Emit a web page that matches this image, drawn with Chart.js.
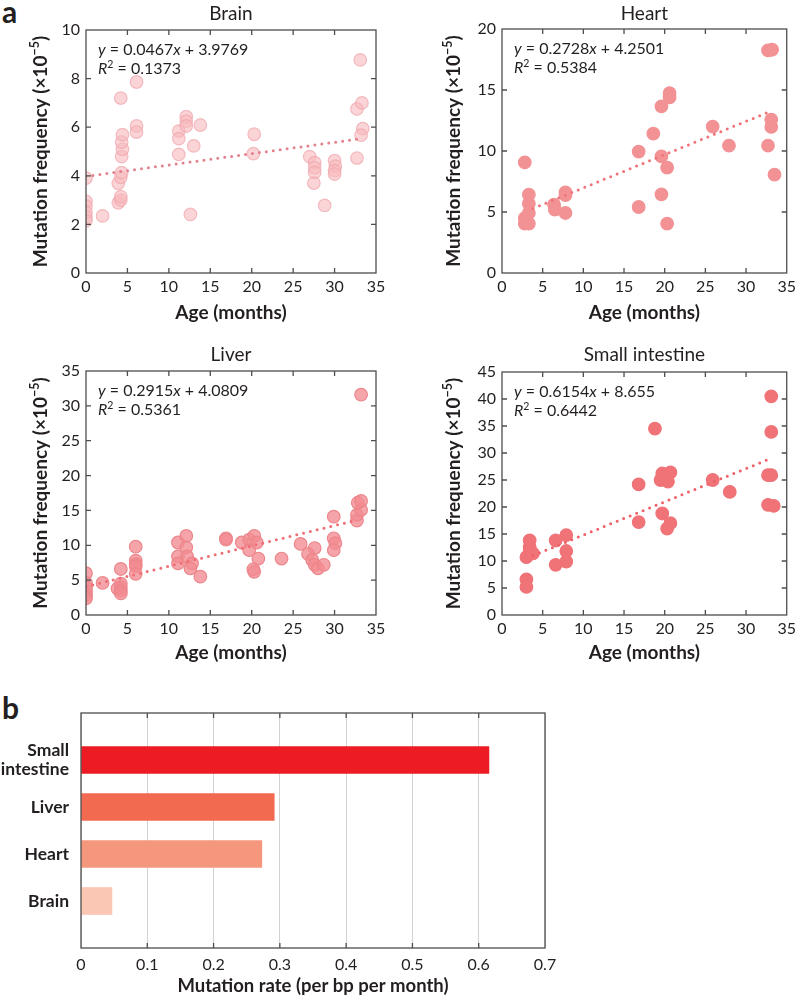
<!DOCTYPE html>
<html lang="en">
<head>
<meta charset="UTF-8">
<title>Mutation frequency with age</title>
<script src="https://cdn.jsdelivr.net/npm/chart.js"></script>
<style>
  body { margin: 0; background: #fff; }
  #wrap { position: relative; width: 800px; height: 998px; overflow: hidden; }
  canvas { position: absolute; }
  .tag { position: absolute; font: bold 30px Lato, sans-serif; color: #231f20; line-height: 30px; }
</style>
</head>
<body>
<div id="wrap">
  <div class="tag" style="left:2px;top:-4px">a</div>
  <div class="tag" style="left:2px;top:692px">b</div>
  <canvas id="brain" width="400" height="325" style="left:0;top:0"></canvas>
  <canvas id="heart" width="400" height="325" style="left:400px;top:0"></canvas>
  <canvas id="liver" width="400" height="335" style="left:0;top:330px"></canvas>
  <canvas id="intestine" width="400" height="335" style="left:400px;top:330px"></canvas>
  <canvas id="rates" width="800" height="308" style="left:0;top:690px"></canvas>
</div>

<script>
// ---- data ----
const tissues = ["Brain", "Heart", "Liver", "Small intestine"];

const brainAge  = [0, 0, 0, 0, 0, 0, 2.0, 3.9, 4.2, 4.3, 3.9, 4.2, 4.2, 4.3, 4.4, 4.3, 4.4, 4.2, 6.1, 6.1, 6.1,
                   11.2, 11.2, 11.2, 12.1, 12.1, 12.1, 13.0, 12.6, 13.8, 20.3, 20.2, 27.0, 27.6, 27.6, 27.6, 27.5,
                   28.8, 30.0, 30.1, 30.0, 30.0, 32.7, 33.3, 33.1, 33.4, 33.2, 32.7];
const brainFreq = [3.9, 2.95, 2.75, 2.5, 2.3, 2.15, 2.35, 3.69, 3.94, 4.13, 2.89, 3.0, 3.14, 4.79, 5.09, 5.39, 5.69, 7.2, 7.86, 6.05, 5.8,
                   5.84, 5.53, 4.88, 6.43, 6.25, 6.05, 5.23, 2.41, 6.09, 5.71, 4.91, 4.79, 4.54, 4.33, 4.14, 3.7,
                   2.78, 4.62, 4.4, 4.21, 4.07, 6.75, 7.0, 8.77, 5.94, 5.67, 4.73];

const heartAge  = [2.8, 3.3, 3.3, 3.3, 2.8, 2.8, 3.3, 6.4, 6.5, 7.8, 7.8, 7.8, 16.8, 16.8, 18.6, 19.6, 19.6, 19.6,
                   20.3, 20.3, 20.6, 20.6, 25.9, 27.9, 32.7, 32.7, 33.2, 33.1, 33.1, 33.5];
const heartFreq = [9.07, 6.42, 5.68, 4.92, 4.5, 4.04, 4.04, 5.6, 5.19, 6.61, 6.39, 4.92, 9.95, 5.41, 11.42, 13.66, 9.56, 6.45,
                   8.63, 4.04, 14.75, 14.4, 12.0, 10.44, 10.44, 18.25, 18.3, 12.57, 11.97, 8.06];

const liverAge  = [0, 0, 0, 0, 0, 0, 2.0, 4.2, 4.2, 4.2, 3.8, 4.2, 4.2, 6.0, 6.0, 6.0, 6.0, 6.0,
                   11.1, 11.1, 11.1, 12.1, 12.1, 12.2, 12.8, 12.6, 13.8, 16.9, 16.9, 18.8, 19.7, 20.3, 20.6, 19.7,
                   20.8, 20.2, 20.3, 23.6, 25.9, 27.6, 26.8, 27.3, 27.6, 28.0, 28.7, 29.9, 29.9, 30.1, 29.9,
                   32.7, 32.7, 33.2, 32.8, 33.2, 33.2];
const liverFreq = [6.0, 4.6, 4.0, 3.4, 2.8, 2.4, 4.6, 6.6, 4.5, 4.0, 3.8, 3.5, 3.1, 9.8, 7.8, 7.3, 7.0, 5.9,
                   10.4, 8.4, 7.4, 11.34, 9.7, 8.4, 7.4, 6.7, 5.5, 11.0, 10.8, 10.4, 10.8, 11.34, 10.4, 9.3,
                   8.1, 6.56, 6.2, 8.1, 10.2, 9.6, 8.76, 7.9, 7.2, 6.7, 7.2, 14.1, 11.0, 10.3, 9.3,
                   13.54, 14.35, 15.07, 16.1, 16.36, 31.6];

const intestineAge  = [3.0, 3.4, 3.8, 3.4, 3.4, 3.0, 3.0, 6.6, 6.6, 7.9, 7.9, 7.9, 16.8, 16.8, 18.8, 19.5, 19.7,
                       20.4, 20.7, 19.7, 20.7, 20.3, 25.9, 28.0, 32.7, 33.1, 32.7, 33.4, 33.1, 33.1];
const intestineFreq = [10.7, 11.7, 11.4, 12.5, 13.8, 6.6, 5.2, 13.8, 9.3, 14.8, 11.85, 9.9, 24.2, 17.2, 34.5, 25.0, 26.2,
                       24.7, 26.4, 18.8, 17.0, 16.0, 25.0, 22.8, 25.9, 25.9, 20.4, 20.2, 33.9, 40.5];

// fitted lines printed in each panel
const fitSlope     = [0.0467, 0.2728, 0.2915, 0.6154];
const fitIntercept = [3.9769, 4.2501, 4.0809, 8.655];
const fitR2        = [0.1373, 0.5384, 0.5361, 0.6442];
const fitFrom      = [0, 3.8, 0, 3.8];
const fitTo        = [33.3, 33.2, 32.6, 33.2];

const yMax  = [10, 20, 35, 45];
const yStep = [2, 5, 5, 5];
const ageTicks = [0, 35, 5];

// panel b
const rateTissues = [["Small", "intestine"], "Liver", "Heart", "Brain"];
const rateValues  = [0.6154, 0.2915, 0.2728, 0.0467];
const rateColors  = ["#ed1c24", "#f26a4f", "#f4977c", "#fac7b4"];

// ---- drawing ----
const FONT = "Lato, 'Open Sans', sans-serif";
Chart.defaults.font.family = FONT;
Chart.defaults.color = "#231f20";

function drawRich(ctx, segs, x, y, size, weight, align) {
  const fontOf = s => (s.it ? "italic " : "") + weight + " " + (s.sup ? size * 0.66 : size) + "px " + FONT;
  let w = 0;
  segs.forEach(s => { ctx.font = fontOf(s); w += ctx.measureText(s.t).width; });
  let cx = align === "center" ? x - w / 2 : x;
  ctx.textAlign = "left";
  ctx.textBaseline = "alphabetic";
  segs.forEach(s => {
    ctx.font = fontOf(s);
    ctx.fillText(s.t, cx, s.sup ? y - size * 0.4 : y);
    cx += ctx.measureText(s.t).width;
  });
}

// box round the plot and MATLAB-like inward ticks
const framePlugin = {
  id: "frame",
  afterDatasetsDraw(chart) {
    const { ctx, chartArea: a, scales } = chart;
    const L = 5;
    ctx.save();
    ctx.strokeStyle = "#4d4d4d";
    ctx.lineWidth = 1.3;
    ctx.strokeRect(a.left, a.top, a.right - a.left, a.bottom - a.top);
    ctx.beginPath();
    scales.x.ticks.forEach(t => {
      const p = scales.x.getPixelForValue(t.value);
      if (p <= a.left + 1 || p >= a.right - 1) return;
      ctx.moveTo(p, a.bottom); ctx.lineTo(p, a.bottom - L);
      ctx.moveTo(p, a.top); ctx.lineTo(p, a.top + L);
    });
    if (scales.y.type === "linear") {
      scales.y.ticks.forEach(t => {
        const p = scales.y.getPixelForValue(t.value);
        if (p <= a.top + 1 || p >= a.bottom - 1) return;
        ctx.moveTo(a.left, p); ctx.lineTo(a.left + L, p);
        ctx.moveTo(a.right, p); ctx.lineTo(a.right - L, p);
      });
    }
    ctx.stroke();
    ctx.restore();
  }
};

function scatterPanel(id, i, ages, freqs, look) {
  const canvas = document.getElementById(id);
  const H = canvas.height;
  const fitLine = [fitFrom[i], fitTo[i]].map(x => ({ x: x, y: fitSlope[i] * x + fitIntercept[i] }));

  const textPlugin = {
    id: "texts",
    afterDraw(chart) {
      const { ctx, chartArea: a } = chart;
      const mid = (a.left + a.right) / 2;
      ctx.save();
      ctx.fillStyle = "#231f20";
      drawRich(ctx, [{ t: tissues[i] }], mid, look.titleY, 19, "normal", "center");
      drawRich(ctx, [{ t: "Age (months)" }], mid, look.xTitleY, 19, "bold", "center");
      drawRich(ctx, [{ t: "y", it: 1 }, { t: " = " + fitSlope[i] }, { t: "x", it: 1 }, { t: " + " + fitIntercept[i] }],
               a.left + 12, a.top + 25, 16, "normal", "left");
      drawRich(ctx, [{ t: "R", it: 1 }, { t: "2", sup: 1 }, { t: " = " + fitR2[i] }],
               a.left + 12, a.top + 44, 16, "normal", "left");
      ctx.translate(look.yTitleX, (a.top + a.bottom) / 2);
      ctx.rotate(-Math.PI / 2);
      drawRich(ctx, [{ t: "Mutation frequency (×10" }, { t: "−5", sup: 1 }, { t: ")" }], 0, 0, 19, "bold", "center");
      ctx.restore();
    }
  };

  new Chart(canvas, {
    type: "scatter",
    data: {
      datasets: [
        {
          data: fitLine, showLine: true, pointRadius: 0, borderColor: look.lineColor,
          borderWidth: 3, borderDash: [0, 7], borderCapStyle: "round", order: 0
        },
        {
          data: ages.map((x, k) => ({ x: x, y: freqs[k] })),
          backgroundColor: look.fill, borderColor: look.edge, borderWidth: 1.2,
          pointRadius: 6.3, order: 1
        }
      ]
    },
    options: {
      responsive: false,
      animation: false,
      layout: { padding: { top: look.top, right: look.right, left: 0, bottom: 0 } },
      plugins: { legend: { display: false }, tooltip: { enabled: false } },
      scales: {
        x: {
          type: "linear", min: ageTicks[0], max: ageTicks[1],
          ticks: { stepSize: ageTicks[2], padding: 4, font: { size: 16 }, color: "#231f20" },
          grid: { display: false, drawTicks: false }, border: { display: false },
          afterFit: s => { s.height = H - look.bottom; }
        },
        y: {
          type: "linear", min: 0, max: yMax[i],
          ticks: { stepSize: yStep[i], padding: 6, font: { size: 16 }, color: "#231f20" },
          grid: { display: false, drawTicks: false }, border: { display: false },
          afterFit: s => { s.width = look.left; }
        }
      }
    },
    plugins: [framePlugin, textPlugin]
  });
}

scatterPanel("brain", 0, brainAge, brainFreq, {
  top: 30, bottom: 273, left: 86, right: 24, titleY: 20, xTitleY: 319, yTitleX: 47,
  fill: "rgba(247,185,189,0.62)", edge: "rgba(240,165,172,0.7)", lineColor: "#e3818d"
});
scatterPanel("heart", 1, heartAge, heartFreq, {
  top: 29, bottom: 273, left: 102, right: 10, titleY: 20, xTitleY: 319, yTitleX: 60,
  fill: "#f29295", edge: "#f29295", lineColor: "#f07379"
});
scatterPanel("liver", 2, liverAge, liverFreq, {
  top: 41, bottom: 285, left: 86, right: 24, titleY: 31, xTitleY: 329, yTitleX: 47,
  fill: "rgba(242,140,145,0.78)", edge: "#ec868c", lineColor: "#ef6d74"
});
scatterPanel("intestine", 3, intestineAge, intestineFreq, {
  top: 42, bottom: 285, left: 102, right: 10, titleY: 31, xTitleY: 329, yTitleX: 60,
  fill: "#f07378", edge: "#f07378", lineColor: "#ee6169"
});

// ---- panel b: horizontal bars ----
(function () {
  const canvas = document.getElementById("rates");
  const plotLeft = 81, plotRight = 545, plotTop = 23, plotBottom = 258;
  // empty slots above and below so the bars sit one step in from the frame
  const labels = [""].concat(rateTissues, [""]);
  const values = [null].concat(rateValues, [null]);
  const colors = ["#fff"].concat(rateColors, ["#fff"]);

  const titlePlugin = {
    id: "xtitle",
    afterDraw(chart) {
      const { ctx, chartArea: a } = chart;
      ctx.save();
      ctx.fillStyle = "#231f20";
      drawRich(ctx, [{ t: "Mutation rate (per bp per month)" }], (a.left + a.right) / 2, 302, 18.5, "bold", "center");
      ctx.restore();
    }
  };

  new Chart(canvas, {
    type: "bar",
    data: {
      labels: labels,
      datasets: [{ data: values, backgroundColor: colors, barThickness: 27, borderWidth: 0 }]
    },
    options: {
      indexAxis: "y",
      responsive: false,
      animation: false,
      layout: { padding: { top: plotTop, right: 800 - plotRight, left: 0, bottom: 0 } },
      plugins: { legend: { display: false }, tooltip: { enabled: false } },
      scales: {
        x: {
          type: "linear", min: 0, max: 0.7,
          ticks: { stepSize: 0.1, padding: 7, font: { size: 16 }, color: "#231f20" },
          grid: { color: "#d2d2d2", lineWidth: 1, drawTicks: false }, border: { display: false },
          afterFit: s => { s.height = 308 - plotBottom; }
        },
        y: {
          type: "category", offset: false,
          ticks: { padding: 12, font: { size: 17.5, weight: "bold", lineHeight: 1.08 }, color: "#231f20", autoSkip: false },
          grid: { display: false, drawTicks: false }, border: { display: false },
          afterFit: s => { s.width = plotLeft; }
        }
      }
    },
    plugins: [framePlugin, titlePlugin]
  });
})();
</script>
</body>
</html>
